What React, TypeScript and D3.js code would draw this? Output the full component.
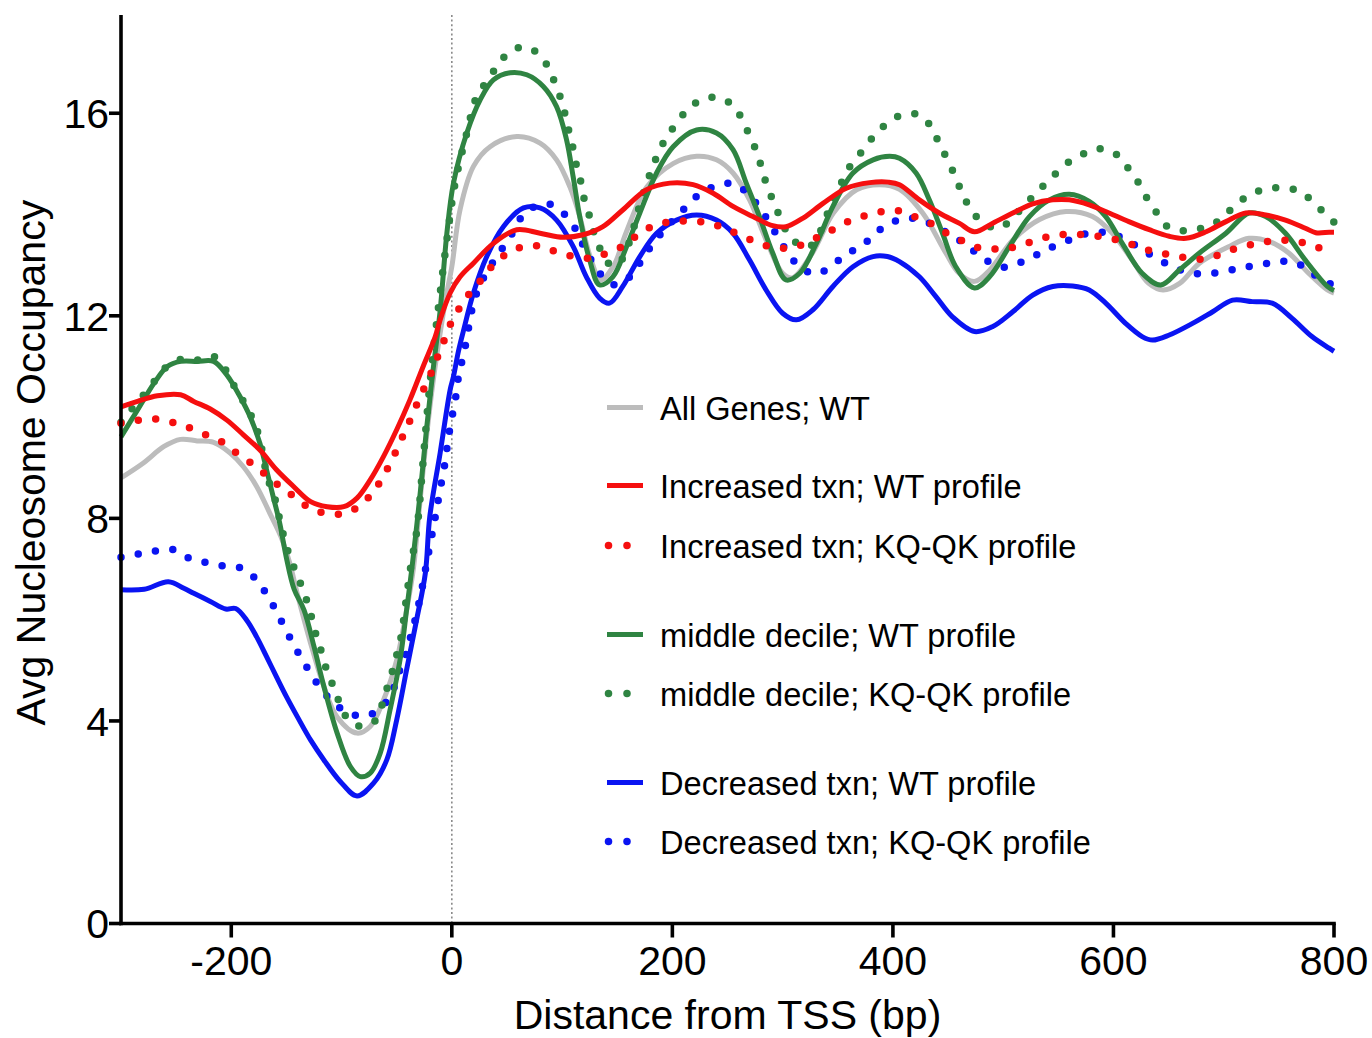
import React, { useEffect, useRef } from 'react';
import * as d3 from 'd3';

type Pt = [number, number];

// distance from TSS (bp), avg nucleosome occupancy
const allGenesWT: Pt[] = [
  [-300, 8.8], [-280, 9.09], [-261, 9.42], [-246, 9.56], [-231, 9.53], [-216, 9.5], [-201, 9.29],
  [-189, 9.02], [-177, 8.63], [-165, 8.1], [-155, 7.64], [-147, 7.12], [-140, 6.5], [-128, 5.53],
  [-116, 4.68], [-104, 4.08], [-86, 3.76], [-74, 3.89], [-62, 4.41], [-50, 5.2], [-41, 6.19],
  [-35, 6.98], [-29, 8.3], [-23, 9.6], [-17, 10.7], [-11, 11.6], [-5, 12.4], [0, 12.97],
  [7.5, 14.1], [19.6, 14.95], [34.7, 15.34], [59, 15.54], [80, 15.41], [95, 15.08], [107, 14.55],
  [116, 13.96], [125, 13.2], [135, 12.71], [147, 13.0], [158, 13.64], [177, 14.55], [201, 15.01],
  [222, 15.15], [240, 15.08], [255, 14.82], [270, 14.29], [285, 13.5], [300, 12.84], [309, 12.75],
  [327, 13.24], [346, 14.03], [367, 14.49], [388, 14.59], [406, 14.5], [427, 14.03], [448, 13.24],
  [460, 12.84], [474, 12.68], [488, 12.91], [509, 13.5], [533, 13.9], [557, 14.06], [581, 13.96],
  [599, 13.63], [617, 13.1], [632, 12.64], [645, 12.51], [660, 12.64], [678, 13.04], [705, 13.37],
  [723, 13.53], [741, 13.47], [759, 13.24], [777, 12.84], [794, 12.51], [800, 12.45],
];

const increasedWT: Pt[] = [
  [-300, 10.2], [-285, 10.31], [-267, 10.42], [-246, 10.44], [-234, 10.31], [-219, 10.16],
  [-204, 9.94], [-189, 9.65], [-174, 9.35], [-159, 8.96], [-143.5, 8.63], [-128, 8.33],
  [-113, 8.23], [-98, 8.23], [-86, 8.4], [-74, 8.76], [-62, 9.22], [-50, 9.75], [-38, 10.34],
  [-26, 11.0], [-15, 11.59], [-10.6, 11.92], [-1.5, 12.45], [7.5, 12.77], [19.6, 13.04],
  [37.7, 13.43], [58.9, 13.7], [80, 13.63], [101, 13.55], [119, 13.6], [137, 13.76], [155, 14.09],
  [176.6, 14.49], [197.7, 14.62], [218.8, 14.59], [237, 14.42], [255, 14.16], [273, 13.96],
  [291, 13.78], [303, 13.76], [318.5, 13.93], [336.6, 14.22], [357.8, 14.52], [379, 14.63],
  [396, 14.64], [406, 14.59], [424, 14.29], [442, 14.03], [460, 13.83], [474, 13.66],
  [490.6, 13.83], [508.7, 14.03], [526.8, 14.21], [545, 14.29], [560, 14.29], [578, 14.19],
  [596, 14.03], [614, 13.86], [632.5, 13.7], [650.6, 13.57], [665.7, 13.53], [684, 13.66],
  [702, 13.86], [720, 14.03], [738, 13.99], [756, 13.89], [774, 13.73], [783.5, 13.64],
  [795.6, 13.65], [800, 13.65],
];

const increasedKQ: Pt[] = [
  [-300, 9.88], [-284, 9.94], [-268, 9.96], [-252, 9.89], [-237, 9.78], [-221, 9.63], [-206, 9.48],
  [-194, 9.27], [-180, 9.06], [-167.6, 8.84], [-154.6, 8.61], [-141, 8.4], [-127.4, 8.18],
  [-111.8, 8.1], [-96, 8.1], [-81.5, 8.29], [-71, 8.53], [-62, 8.84], [-54, 9.17], [-47.5, 9.48],
  [-40.8, 9.79], [-34, 10.14], [-27, 10.48], [-20, 10.81], [-14, 11.13], [-7.6, 11.48],
  [-1.5, 11.82], [6, 12.12], [15, 12.41], [25.6, 12.68], [36, 12.97], [48, 13.2], [63.4, 13.36],
  [79, 13.38], [95, 13.26], [110.8, 13.17], [126.8, 13.14], [141.8, 13.25], [157, 13.4],
  [170.5, 13.63], [185.7, 13.8], [200.7, 13.86], [218, 13.87], [234, 13.83], [249, 13.71],
  [264, 13.57], [280, 13.42], [296, 13.34], [312, 13.36], [327.5, 13.51], [342, 13.66],
  [357, 13.84], [372, 13.96], [388, 14.05], [404, 14.08], [419.6, 13.96], [434.7, 13.82],
  [448, 13.64], [463, 13.48], [478.5, 13.34], [495, 13.32], [511, 13.36], [526.8, 13.47],
  [542.6, 13.57], [558.5, 13.61], [575, 13.6], [592, 13.55], [607.8, 13.47], [623.5, 13.36],
  [639, 13.25], [655, 13.2], [671, 13.12], [687, 13.14], [702.6, 13.27], [718.6, 13.37],
  [734.6, 13.45], [750, 13.49], [766.8, 13.47], [783, 13.36], [800, 13.3],
];

const middleWT: Pt[] = [
  [-300, 9.61], [-285, 10.14], [-270, 10.67], [-258, 11.0], [-246, 11.1], [-231, 11.1], [-216, 11.1],
  [-204, 10.83], [-192, 10.4], [-183, 10.01], [-174, 9.48], [-168, 8.96], [-162, 8.43], [-156, 7.9],
  [-150, 7.22], [-143, 6.6], [-134, 6.19], [-125, 5.47], [-116, 4.68], [-104, 3.76], [-92, 3.1],
  [-83, 2.9], [-74, 2.97], [-65, 3.36], [-56, 4.22], [-47, 5.2], [-41, 6.19], [-36, 7.05],
  [-29, 8.43], [-23, 9.75], [-17, 10.93], [-10.6, 12.1], [-4.5, 13.63], [1.5, 14.62], [13.6, 15.61],
  [25.6, 16.26], [37.7, 16.66], [52.8, 16.8], [68, 16.76], [83, 16.53], [95, 16.13], [104, 15.48],
  [110, 14.75], [116, 13.96], [125, 13.1], [134, 12.61], [146, 12.77], [158.5, 13.37],
  [170.5, 14.03], [185.7, 14.82], [200.7, 15.34], [222, 15.67], [240, 15.61], [255, 15.28],
  [267, 14.62], [279, 13.96], [291, 13.24], [303, 12.71], [315.5, 12.84], [330.6, 13.43],
  [345.6, 14.16], [363.8, 14.82], [382, 15.08], [397, 15.15], [406, 15.11], [421, 14.82],
  [433, 14.29], [445, 13.63], [457, 12.97], [474, 12.55], [487.6, 12.77], [505.7, 13.37],
  [523.8, 13.96], [542, 14.29], [560, 14.4], [578, 14.26], [593, 13.96], [608, 13.43], [626, 12.84],
  [643, 12.61], [660, 12.91], [678, 13.24], [702, 13.63], [723, 14.03], [738, 13.96], [756, 13.63],
  [774, 13.1], [794, 12.58], [800, 12.5],
];

const middleKQ: Pt[] = [
  [-300, 9.9], [-291, 10.14], [-281, 10.4], [-270, 10.7], [-261, 10.95], [-248, 11.13], [-232, 11.12],
  [-216, 11.2], [-205, 10.93], [-198, 10.64], [-189, 10.31], [-181, 9.98], [-175, 9.63],
  [-167.6, 8.85], [-158.6, 8.25], [-155.5, 7.9], [-151, 7.54], [-146.5, 7.21], [-140, 6.87],
  [-134, 6.52], [-129, 6.21], [-125, 5.83], [-120, 5.5], [-116, 5.17], [-110, 4.82], [-104, 4.48],
  [-98, 4.15], [-86, 3.91], [-71, 3.97], [-59, 4.63], [-54, 4.97], [-50, 5.3], [-46, 5.66],
  [-41.4, 6.39], [-37, 7.08], [-31.7, 7.77], [-25.7, 9.22], [-21, 10.4], [-16.6, 11.33],
  [-4.5, 13.5], [3, 14.62], [13.6, 15.61], [22.6, 16.33], [33, 16.66], [42, 16.96], [53, 17.22],
  [67, 17.31], [81.5, 17.11], [89, 16.82], [95.7, 16.48], [101, 16.13], [104.7, 15.77],
  [108.7, 15.44], [111.7, 15.08], [116, 14.75], [119, 14.39], [123.7, 14.06], [128, 13.7],
  [133.7, 13.36], [141.8, 13.04], [150, 13.0], [160, 13.4], [172, 14.3], [185, 15.1],
  [195, 15.54], [204, 15.8], [214, 16.08], [228, 16.28], [244, 16.3], [257, 16.1], [265, 15.79],
  [272, 15.46], [278, 15.15], [282, 14.82], [288, 14.45], [294, 14.13], [309, 13.5],
  [324.5, 13.37], [346, 14.29], [361, 14.95], [371, 15.22], [382, 15.53], [393, 15.77],
  [407, 15.96], [424, 15.97], [435, 15.72], [442, 15.4], [450, 15.06], [457, 14.73], [463, 14.41],
  [471, 14.09], [481.5, 13.84], [496.6, 13.73], [509, 13.95], [521, 14.22], [532, 14.47],
  [544, 14.73], [556, 14.98], [571, 15.18], [586, 15.3], [601, 15.21], [612, 14.95], [622, 14.65],
  [630, 14.34], [639, 14.04], [649, 13.76], [664, 13.68], [680, 13.73], [695, 13.87], [707, 14.11],
  [720, 14.34], [735, 14.49], [751, 14.53], [767.5, 14.47], [780, 14.27], [792, 14.01], [800, 13.85],
];

const decreasedWT: Pt[] = [
  [-300, 6.59], [-279, 6.6], [-257, 6.75], [-243, 6.62], [-234, 6.52], [-219, 6.36], [-205, 6.21],
  [-196, 6.22], [-186, 5.99], [-177, 5.66], [-168, 5.27], [-159, 4.87], [-150, 4.48], [-140, 4.08],
  [-128, 3.62], [-116, 3.23], [-101, 2.8], [-86, 2.52], [-71, 2.77], [-59, 3.23], [-50, 4.02],
  [-41, 5.01], [-32, 5.99], [-24, 6.92], [-20, 8.03], [-10.6, 9.29], [-1.5, 10.54], [1.5, 10.8],
  [6, 11.3], [10.5, 11.7], [19.6, 12.45], [31.7, 13.17], [46.7, 13.76], [65, 14.13], [80, 14.13],
  [95, 13.89], [110, 13.37], [122, 12.77], [134, 12.35], [143, 12.25], [155, 12.58],
  [170.5, 13.17], [185.7, 13.63], [203.8, 13.89], [222, 13.99], [240, 13.89], [255, 13.63],
  [270, 13.1], [285, 12.51], [300, 12.05], [312.5, 11.92], [327.5, 12.12], [345.6, 12.58],
  [363.8, 12.97], [382, 13.17], [395, 13.17], [406, 13.07], [424, 12.77], [439, 12.38],
  [454, 11.98], [474, 11.69], [490.6, 11.79], [508.7, 12.08], [526.8, 12.41], [545, 12.58],
  [563, 12.59], [578, 12.51], [593, 12.25], [611, 11.85], [626, 11.59], [635.5, 11.52],
  [650.6, 11.62], [671.7, 11.85], [690, 12.08], [708, 12.31], [726, 12.28], [744, 12.25],
  [762, 11.95], [780, 11.59], [795.6, 11.36], [800, 11.3],
];

const decreasedKQ: Pt[] = [
  [-300, 7.23], [-284, 7.3], [-268, 7.36], [-252, 7.38], [-237, 7.2], [-221, 7.12], [-205, 7.05],
  [-189, 7.01], [-177, 6.78], [-168, 6.5], [-160, 6.2], [-152, 5.86], [-144, 5.53], [-136, 5.22],
  [-127.4, 4.92], [-118.7, 4.63], [-107, 4.36], [-94.5, 4.16], [-77.6, 4.1], [-63.4, 4.28],
  [-54.3, 4.55], [-49.3, 4.89], [-43, 5.22], [-38.4, 5.58], [-34, 5.93], [-27, 6.62], [-24, 6.98],
  [-15, 8.03], [-12, 8.4], [-9, 8.76], [-6, 9.12], [-4, 9.45], [-1.5, 9.81], [1.5, 10.15],
  [4.5, 10.52], [6.6, 10.89], [10.5, 11.21], [15, 11.74], [19.6, 12.25], [25.6, 12.61],
  [34.7, 12.97], [43.8, 13.27], [52.8, 13.55], [60, 13.86], [72.5, 14.13], [87.5, 14.21],
  [101, 14.03], [111.7, 13.73], [119, 13.4], [128, 13.04], [137, 12.77], [148, 12.61],
  [161.5, 12.77], [170.5, 13.04], [179.6, 13.34], [190, 13.63], [200.7, 13.89], [212.8, 14.16],
  [225, 14.41], [240, 14.57], [255, 14.61], [268.7, 14.41], [279, 14.13], [288, 13.84],
  [297, 13.51], [306, 13.2], [317, 12.94], [331, 12.83], [345.6, 13.01], [358, 13.22],
  [372.8, 13.4], [385, 13.65], [398.8, 13.84], [415, 13.93], [430.5, 13.85], [445, 13.69],
  [458.6, 13.52], [472, 13.3], [485.8, 13.08], [501, 12.96], [516.6, 13.06], [532, 13.22],
  [546.5, 13.38], [563, 13.52], [578, 13.64], [594.4, 13.64], [610, 13.52], [623.5, 13.34],
  [639, 13.14], [653.6, 12.97], [669, 12.85], [685, 12.83], [702.4, 12.89], [717, 12.95],
  [734, 13.01], [749.4, 13.07], [765.7, 13.05], [779.3, 12.85], [794.7, 12.65], [800, 12.6],
];

const yTicks = [0, 4, 8, 12, 16];
const xTicks = [-200, 0, 200, 400, 600, 800];

const GRAY = '#bcbcbc';
const RED = '#f50f0f';
const GREEN = '#2f8442';
const BLUE = '#0a14f2';

const series = [
  { name: 'All Genes; WT', data: allGenesWT, color: GRAY, dotted: false },
  { name: 'Increased txn; WT profile', data: increasedWT, color: RED, dotted: false },
  { name: 'Increased txn; KQ-QK profile', data: increasedKQ, color: RED, dotted: true },
  { name: 'middle decile; WT profile', data: middleWT, color: GREEN, dotted: false },
  { name: 'middle decile; KQ-QK profile', data: middleKQ, color: GREEN, dotted: true },
  { name: 'Decreased txn; WT profile', data: decreasedWT, color: BLUE, dotted: false },
  { name: 'Decreased txn; KQ-QK profile', data: decreasedKQ, color: BLUE, dotted: true },
];

// draw order (bottom to top)
const drawOrder = [0, 5, 6, 3, 4, 1, 2];

const FONT = '"Liberation Sans", Arial, Helvetica, sans-serif';

const App = () => {
  const svgRef = useRef<SVGSVGElement>(null);
  const width = 1372;
  const height = 1038;

  useEffect(() => {
    const svg = d3.select(svgRef.current);
    svg.selectAll('*').remove();

    const x = d3.scaleLinear().domain([-300, 800]).range([121, 1334]);
    const y = d3.scaleLinear().domain([0, 17.94]).range([923.5, 15]);

    // TSS marker
    svg.append('line')
      .attr('x1', x(0)).attr('x2', x(0))
      .attr('y1', y(17.94)).attr('y2', y(0))
      .attr('stroke', '#8a8a8a')
      .attr('stroke-width', 1.6)
      .attr('stroke-dasharray', '2 2.6');

    const line = d3.line<Pt>()
      .x(d => x(d[0]))
      .y(d => y(d[1]))
      .curve(d3.curveCatmullRom.alpha(0.5));

    drawOrder.forEach(i => {
      const s = series[i];
      const p = svg.append('path')
        .attr('d', line(s.data))
        .attr('fill', 'none')
        .attr('stroke', s.color)
        .attr('stroke-linejoin', 'round');
      if (s.dotted) {
        p.attr('stroke-width', 7.5)
          .attr('stroke-linecap', 'round')
          .attr('stroke-dasharray', '0 17.5');
      } else {
        p.attr('stroke-width', 5);
      }
    });

    // axes
    const axes = svg.append('g').attr('stroke', '#000').attr('stroke-width', 3.6);
    axes.append('line')
      .attr('x1', x(-300)).attr('x2', x(-300))
      .attr('y1', y(17.94)).attr('y2', y(0) + 1.8);
    axes.append('line')
      .attr('x1', x(-300) - 1.8).attr('x2', x(800) + 1.8)
      .attr('y1', y(0)).attr('y2', y(0));

    yTicks.forEach(t => {
      axes.append('line')
        .attr('x1', x(-300) - 12).attr('x2', x(-300))
        .attr('y1', y(t)).attr('y2', y(t));
      svg.append('text')
        .attr('x', x(-300) - 12)
        .attr('y', y(t))
        .attr('dy', '0.36em')
        .attr('text-anchor', 'end')
        .attr('font-family', FONT)
        .attr('font-size', 41)
        .text(t);
    });

    xTicks.forEach(t => {
      axes.append('line')
        .attr('x1', x(t)).attr('x2', x(t))
        .attr('y1', y(0)).attr('y2', y(0) + 14);
      svg.append('text')
        .attr('x', x(t))
        .attr('y', 975)
        .attr('text-anchor', 'middle')
        .attr('font-family', FONT)
        .attr('font-size', 41)
        .text(t);
    });

    svg.append('text')
      .attr('x', (x(-300) + x(800)) / 2)
      .attr('y', 1029)
      .attr('text-anchor', 'middle')
      .attr('font-family', FONT)
      .attr('font-size', 41)
      .text('Distance from TSS (bp)');

    svg.append('text')
      .attr('transform', `translate(45, ${y(9.1)}) rotate(-90)`)
      .attr('text-anchor', 'middle')
      .attr('font-family', FONT)
      .attr('font-size', 41)
      .text('Avg Nucleosome Occupancy');

    // legend
    const rowOffsets = [0, 78, 138, 227, 286, 375, 434];
    const legend = svg.append('g').attr('transform', 'translate(607, 407.5)');
    series.forEach((s, i) => {
      const row = legend.append('g').attr('transform', `translate(0, ${rowOffsets[i]})`);
      if (s.dotted) {
        [1.5, 20].forEach(cx => {
          row.append('circle')
            .attr('cx', cx)
            .attr('cy', 0)
            .attr('r', 3.75)
            .attr('fill', s.color);
        });
      } else {
        row.append('line')
          .attr('x1', 0).attr('x2', 36)
          .attr('stroke', s.color)
          .attr('stroke-width', 5);
      }
      row.append('text')
        .attr('x', 53)
        .attr('y', 12)
        .attr('font-family', FONT)
        .attr('font-size', 32.6)
        .text(s.name);
    });
  }, []);

  return (
    <svg
      ref={svgRef}
      width={width}
      height={height}
      style={{ position: 'absolute', left: 0, top: 0, background: '#fff' }}
    />
  );
};

export default App;
